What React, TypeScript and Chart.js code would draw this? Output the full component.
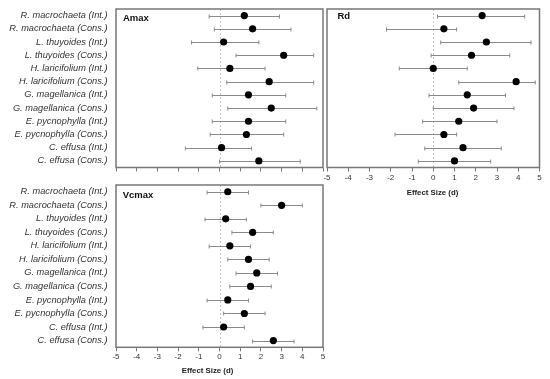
import React, { useEffect, useRef } from 'react';
import { Chart, registerables } from 'chart.js';

Chart.register(...registerables);

const species = [
  'R. macrochaeta (Int.)',
  'R. macrochaeta (Cons.)',
  'L. thuyoides (Int.)',
  'L. thuyoides (Cons.)',
  'H. laricifolium (Int.)',
  'H. laricifolium (Cons.)',
  'G. magellanica (Int.)',
  'G. magellanica (Cons.)',
  'E. pycnophylla (Int.)',
  'E. pycnophylla (Cons.)',
  'C. effusa (Int.)',
  'C. effusa (Cons.)',
];

const amaxMean = [1.2, 1.6, 0.2, 3.1, 0.5, 2.4, 1.4, 2.5, 1.4, 1.3, 0.1, 1.9];
const amaxLow = [-0.5, -0.25, -1.35, 0.8, -1.05, 0.35, -0.35, 0.4, -0.35, -0.45, -1.65, 0.0];
const amaxHigh = [2.9, 3.45, 1.9, 4.55, 2.2, 4.55, 3.2, 4.7, 3.2, 3.1, 1.55, 3.9];

const rdMean = [2.3, 0.5, 2.5, 1.8, 0.0, 3.9, 1.6, 1.9, 1.2, 0.5, 1.4, 1.0];
const rdLow = [0.2, -2.2, 0.35, -0.1, -1.6, 1.2, -0.2, 0.0, -0.5, -1.8, -0.4, -0.7];
const rdHigh = [4.3, 1.1, 4.6, 3.6, 1.6, 4.8, 3.4, 3.8, 3.0, 1.1, 3.2, 2.7];

const vcMean = [0.4, 3.0, 0.3, 1.6, 0.5, 1.4, 1.8, 1.5, 0.4, 1.2, 0.2, 2.6];
const vcLow = [-0.6, 2.0, -0.7, 0.6, -0.5, 0.4, 0.8, 0.5, -0.6, 0.2, -0.8, 1.6];
const vcHigh = [1.4, 4.0, 1.3, 2.6, 1.5, 2.4, 2.8, 2.5, 1.4, 2.2, 1.2, 3.6];

const xMin = -5;
const xMax = 5;
const xTitle = 'Effect Size (d)';

const W = 550;
const H = 379;
const FONT = 'Arial, "Liberation Sans", sans-serif';

type Area = { left: number; top: number; right: number; bottom: number };

type PanelProps = {
  title: string;
  mean: number[];
  low: number[];
  high: number[];
  area: Area;
  titleOffset: [number, number];
  showY: boolean;
  showX: boolean;
  axisTitlePos?: [number, number];
};

function Panel(props: PanelProps) {
  const ref = useRef<HTMLCanvasElement | null>(null);
  useEffect(() => {
    const canvas = ref.current;
    if (!canvas) return;
    const { title, mean, low, high, area, titleOffset, showY, showX, axisTitlePos } = props;

    const forest = {
      id: 'forest',
      beforeDatasetsDraw(chart: any) {
        const { ctx, chartArea: a, scales } = chart;
        const x = scales.x;
        const y = scales.y;
        ctx.save();
        const x0 = Math.round(x.getPixelForValue(0)) + 0.5;
        ctx.strokeStyle = '#c4c4c4';
        ctx.lineWidth = 1;
        ctx.setLineDash([2, 2]);
        ctx.beginPath();
        ctx.moveTo(x0, a.top);
        ctx.lineTo(x0, a.bottom);
        ctx.stroke();
        ctx.setLineDash([]);
        ctx.strokeStyle = '#8a8a8a';
        ctx.lineWidth = 1;
        for (let i = 0; i < species.length; i++) {
          const py = Math.round(y.getPixelForValue(i)) + 0.5;
          const xl = x.getPixelForValue(low[i]);
          const xh = x.getPixelForValue(high[i]);
          ctx.beginPath();
          ctx.moveTo(xl, py);
          ctx.lineTo(xh, py);
          ctx.moveTo(xl, py - 2);
          ctx.lineTo(xl, py + 2);
          ctx.moveTo(xh, py - 2);
          ctx.lineTo(xh, py + 2);
          ctx.stroke();
        }
        ctx.strokeStyle = '#777';
        ctx.lineWidth = 1.5;
        ctx.strokeRect(a.left, a.top, a.right - a.left, a.bottom - a.top);
        ctx.fillStyle = '#111';
        ctx.font = `bold 9.5px ${FONT}`;
        ctx.textBaseline = 'middle';
        ctx.textAlign = 'left';
        ctx.fillText(title, a.left + titleOffset[0], a.top + titleOffset[1]);
        if (axisTitlePos) {
          ctx.font = `bold 7.8px ${FONT}`;
          ctx.textAlign = 'center';
          ctx.fillStyle = '#222';
          ctx.fillText(xTitle, axisTitlePos[0], axisTitlePos[1]);
        }
        ctx.restore();
      },
    };

    const chart = new Chart(canvas, {
      type: 'scatter',
      data: {
        datasets: [
          {
            data: species.map((s, i) => ({ x: mean[i], y: s })) as any,
            pointRadius: 3.6,
            pointBackgroundColor: '#000',
            pointBorderColor: '#000',
            pointBorderWidth: 0,
            pointHoverRadius: 3.6,
          },
        ],
      },
      options: {
        animation: false,
        responsive: false,
        devicePixelRatio: 1,
        events: [],
        layout: {
          padding: {
            left: 0,
            top: area.top,
            right: W - area.right,
            bottom: 0,
          },
        },
        plugins: {
          legend: { display: false },
          tooltip: { enabled: false },
        },
        scales: {
          x: {
            type: 'linear',
            min: xMin,
            max: xMax,
            ticks: {
              stepSize: 1,
              display: true,
              autoSkip: false,
              maxRotation: 0,
              padding: 1,
              color: showX ? '#333' : 'rgba(0,0,0,0)',
              font: { family: FONT, size: 8 },
            },
            grid: {
              drawOnChartArea: false,
              drawTicks: true,
              tickLength: 4,
              tickColor: '#777',
              tickWidth: 1,
            },
            border: { display: false },
            afterFit: (s: any) => {
              s.height = H - area.bottom;
            },
          } as any,
          y: {
            type: 'category',
            labels: species,
            offset: true,
            ticks: {
              display: true,
              autoSkip: false,
              padding: 0,
              color: showY ? '#333' : 'rgba(0,0,0,0)',
              font: { family: FONT, size: 9.25, style: 'italic' },
            },
            grid: {
              display: true,
              drawOnChartArea: false,
              drawTicks: true,
              tickLength: 8.5,
              tickColor: 'rgba(0,0,0,0)',
              color: 'rgba(0,0,0,0)',
            },
            border: { display: false },
            afterFit: (s: any) => {
              s.width = area.left;
            },
          } as any,
        },
      },
      plugins: [forest],
    });
    return () => chart.destroy();
  }, []);

  return (
    <canvas
      ref={ref}
      width={W}
      height={H}
      style={{ position: 'absolute', left: 0, top: 0, width: W, height: H }}
    />
  );
}

export default function App() {
  return (
    <div style={{ position: 'fixed', left: 0, top: 0, width: W, height: H, background: '#fff' }}>
      <Panel
        title="Amax"
        mean={amaxMean}
        low={amaxLow}
        high={amaxHigh}
        area={{ left: 116, top: 9, right: 323, bottom: 167.5 }}
        titleOffset={[7, 9.3]}
        showY={true}
        showX={false}
      />
      <Panel
        title="Rd"
        mean={rdMean}
        low={rdLow}
        high={rdHigh}
        area={{ left: 327, top: 9, right: 539.5, bottom: 167.5 }}
        titleOffset={[10.5, 7.7]}
        showY={false}
        showX={true}
        axisTitlePos={[432.5, 193]}
      />
      <Panel
        title="Vcmax"
        mean={vcMean}
        low={vcLow}
        high={vcHigh}
        area={{ left: 116, top: 185, right: 323, bottom: 347.3 }}
        titleOffset={[6.7, 10.3]}
        showY={true}
        showX={true}
        axisTitlePos={[207.5, 371]}
      />
    </div>
  );
}
